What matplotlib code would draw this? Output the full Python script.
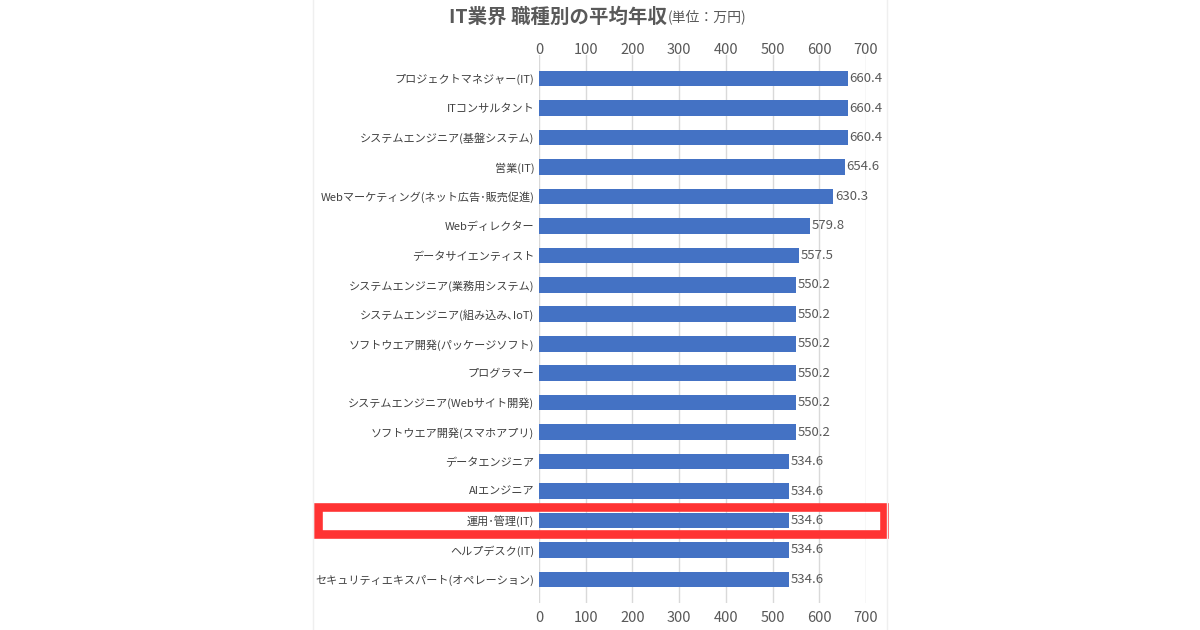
import matplotlib
matplotlib.use("Agg")
import matplotlib.pyplot as plt
from matplotlib.patches import Rectangle
from matplotlib.lines import Line2D
from matplotlib.transforms import blended_transform_factory

plt.rcParams["font.family"] = ["Noto Sans CJK JP", "DejaVu Sans"]

# data (万円)
jobs = [
    "プロジェクトマネジャー(IT)",
    "ITコンサルタント",
    "システムエンジニア(基盤システム)",
    "営業(IT)",
    "Webマーケティング(ネット広告･販売促進)",
    "Webディレクター",
    "データサイエンティスト",
    "システムエンジニア(業務用システム)",
    "システムエンジニア(組み込み､IoT)",
    "ソフトウエア開発(パッケージソフト)",
    "プログラマー",
    "システムエンジニア(Webサイト開発)",
    "ソフトウエア開発(スマホアプリ)",
    "データエンジニア",
    "AIエンジニア",
    "運用･管理(IT)",
    "ヘルプデスク(IT)",
    "セキュリティエキスパート(オペレーション)",
]
salaries = [660.4, 660.4, 660.4, 654.6, 630.3, 579.8, 557.5, 550.2, 550.2,
            550.2, 550.2, 550.2, 550.2, 534.6, 534.6, 534.6, 534.6, 534.6]
ticks = [0, 100, 200, 300, 400, 500, 600, 700]
highlight = "運用･管理(IT)"

BAR = "#4472C4"
GRID = "#D9D9D9"
TXT = "#404040"
SUB = "#595959"

W, H = 1200, 630
fig = plt.figure(figsize=(W / 100, H / 100), dpi=100)
fig.patch.set_facecolor("white")

ax = fig.add_axes([539 / W, 1 - 603 / H, 327 / W, 548 / H])
y = list(range(len(jobs)))
ax.barh(y, salaries, height=0.53, color=BAR, zorder=2)
ax.set_xlim(0, 700)
ax.set_ylim(len(jobs) - 1 + 0.8, -0.8)

ax.set_xticks(ticks)
ax.set_xticklabels([str(t) for t in ticks])
ax.set_yticks(y)
ax.set_yticklabels(jobs)
ax.tick_params(axis="x", length=0, labelsize=10.5, labelcolor=SUB, pad=5.5)
ax.tick_params(axis="y", length=0, labelsize=8, labelcolor=TXT, pad=3.5)
ax.grid(axis="x", color=GRID, linewidth=1, zorder=0)
for s in ax.spines.values():
    s.set_visible(False)

# same scale repeated above the bars
top = ax.secondary_xaxis("top")
top.set_xticks(ticks)
top.tick_params(length=0, labelsize=10.5, labelcolor=SUB, pad=-1.5)
for s in top.spines.values():
    s.set_visible(False)

for yi, v in zip(y, salaries):
    ax.annotate(f"{v:.1f}", (v, yi), xytext=(1.2, 0), textcoords="offset points",
                ha="left", va="center", fontsize=9.5, color=SUB,
                annotation_clip=False)

# red highlight frame around one row, spanning the panel width
row = jobs.index(highlight)
tr = blended_transform_factory(fig.transFigure, ax.transData)
ax.add_patch(Rectangle((317.5 / W, row - 0.47), 566 / W, 0.94, transform=tr,
                       fill=False, edgecolor="#FF3333", linewidth=6.2,
                       clip_on=False, zorder=5))

# faint panel edges
for xe in (313, 887):
    fig.add_artist(Line2D([xe / W, xe / W], [0, 1], color="#EFEFEF", linewidth=1))

fig.text(667 / W, 1 - 17 / H, "IT業界 職種別の平均年収", ha="right", va="center",
         fontsize=14, fontweight="bold", color=SUB)
fig.text(668 / W, 1 - 17 / H, "(単位：万円)", ha="left", va="center",
         fontsize=10, color=SUB)

fig.savefig("out.png", dpi=100, facecolor="white")
plt.close(fig)
